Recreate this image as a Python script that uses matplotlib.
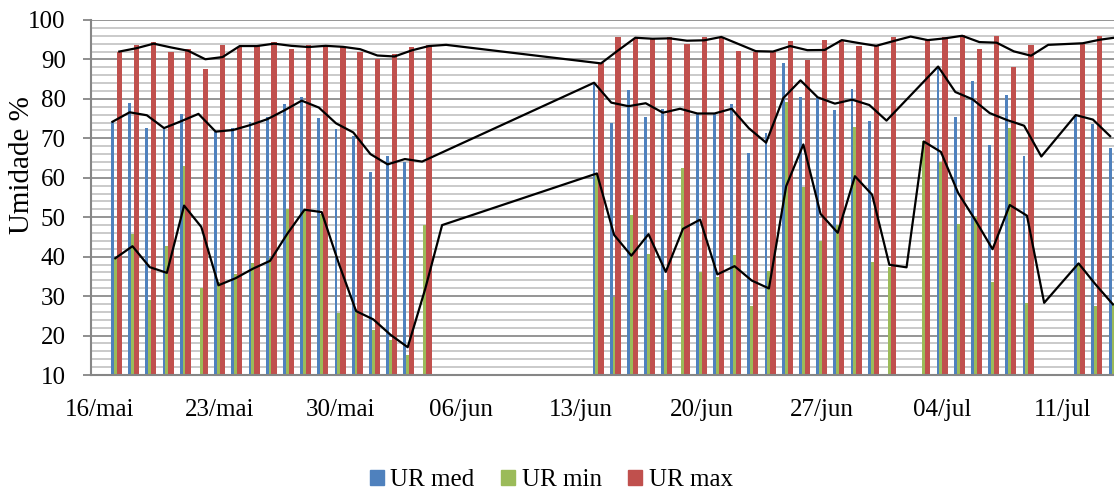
import numpy as np
import pandas as pd
import matplotlib
matplotlib.use("Agg")
import matplotlib.pyplot as plt
from matplotlib.patches import Patch
from matplotlib.ticker import MultipleLocator

plt.rcParams["font.family"] = ["Liberation Serif", "DejaVu Serif"]

# =============================================================================
# DATA (daily relative humidity, day 0 = 16/mai ... day 59 = 14/jul)
# =============================================================================
nan = np.nan
days = np.arange(60)

ur_med = [nan, 74.2, 79.0, 72.7, 72.5, 76.2, nan, 71.7, 72.5, 74.2,
          75.5, 78.7, 80.4, 75.2, 72.4, 70.6, 61.4, 65.4, 64.1, nan,
          nan, nan, nan, nan, nan, nan, nan, nan, nan, 84.1,
          74.0, 82.3, 75.5, 77.5, nan, 76.3, 76.3, 78.7, 66.4, 71.4,
          89.0, 80.4, 80.4, 77.2, 82.4, 74.5, nan, nan, nan, 88.2,
          75.3, 84.5, 68.3, 81.0, 65.4, nan, nan, 75.9, 73.6, 67.5]

ur_min = [nan, 39.6, 45.7, 29.0, 42.8, 63.1, 32.0, 33.5, 35.6, 38.3,
          39.6, 52.0, 51.8, 50.8, 25.6, 26.8, 21.4, 19.0, 15.1, 48.0,
          nan, nan, nan, nan, nan, nan, nan, nan, nan, 61.1,
          29.9, 50.6, 40.8, 31.5, 62.6, 36.2, 34.8, 40.4, 27.5, 36.4,
          79.3, 57.6, 44.1, 48.0, 72.8, 38.6, 37.3, nan, 69.2, 63.9,
          48.4, 50.1, 33.7, 72.5, 28.3, nan, nan, 38.3, 27.5, 28.3]

ur_max = [nan, 92.0, 93.7, 94.3, 91.8, 92.6, 87.5, 93.7, 93.1, 93.7,
          94.3, 92.6, 93.7, 93.2, 93.2, 92.0, 90.0, 91.5, 93.1, 93.7,
          nan, nan, nan, nan, nan, nan, nan, nan, nan, 89.0,
          95.6, 95.4, 95.1, 95.6, 93.9, 95.8, 95.6, 92.2, 92.0, 92.0,
          94.8, 89.9, 94.9, 94.9, 93.4, 93.5, 95.8, nan, 94.9, 95.8,
          96.2, 92.6, 95.9, 88.2, 93.7, nan, nan, 94.1, 95.9, 95.3]

tick_days = [0, 7, 14, 21, 28, 35, 42, 49, 56]
tick_labels = ["16/mai", "23/mai", "30/mai", "06/jun", "13/jun",
               "20/jun", "27/jun", "04/jul", "11/jul"]

c_med = "#4F81BD"
c_min = "#9BBB59"
c_max = "#C0504D"

# =============================================================================
# PLOT
# =============================================================================
fig = plt.figure(figsize=(11.14, 4.95), dpi=100)
ax = fig.add_axes([0.0814, 0.2424, 0.9186, 0.7172])

w = 0.165
ax.bar(days - 2 * w, ur_med, width=w, align="edge", color=c_med, zorder=2)
ax.bar(days - w, ur_min, width=w, align="edge", color=c_min, zorder=2)
ax.bar(days, ur_max, width=0.31, align="edge", color=c_max, zorder=2)

# 2-day moving average trendlines (blank days skipped, gaps bridged)
for vals, off in [(ur_med, -0.245), (ur_min, -0.08), (ur_max, 0.155)]:
    ma = pd.Series(vals).rolling(2, min_periods=1).mean()
    ok = ma.notna().values
    ax.plot(days[ok] + off, ma[ok], color="black", lw=1.6, zorder=3)

ax.set_xlim(-0.51, 58.98)
ax.set_ylim(10, 100)
ax.yaxis.set_major_locator(MultipleLocator(10))
ax.yaxis.set_minor_locator(MultipleLocator(2))
ax.grid(which="minor", axis="y", color="#c6c6c6", lw=1.3, zorder=0)
ax.grid(which="major", axis="y", color="#8c8c8c", lw=1.3, zorder=0)
ax.set_axisbelow(True)

ax.set_xticks(tick_days)
ax.set_xticklabels(tick_labels)
ax.tick_params(axis="x", length=0, labelsize=18, pad=17)
ax.tick_params(axis="y", which="major", direction="out", length=6,
               color="#868686", width=1.3, labelsize=18, pad=12)
ax.tick_params(axis="y", which="minor", length=0)

for s in ["top", "right"]:
    ax.spines[s].set_visible(False)
for s in ["left", "bottom"]:
    ax.spines[s].set_color("#868686")
    ax.spines[s].set_linewidth(1.5)

ax.set_ylabel("Umidade %", fontsize=21)
ax.yaxis.set_label_coords(-0.054, 0.59)

handles = [Patch(color=c_med, label="UR med"),
           Patch(color=c_min, label="UR min"),
           Patch(color=c_max, label="UR max")]
fig.legend(handles=handles, loc="center", bbox_to_anchor=(0.495, 0.03),
           ncol=3, frameon=False, fontsize=18, handlelength=0.56,
           handleheight=0.56, handletextpad=0.25, columnspacing=1.07)

fig.savefig("out.png", dpi=100)
